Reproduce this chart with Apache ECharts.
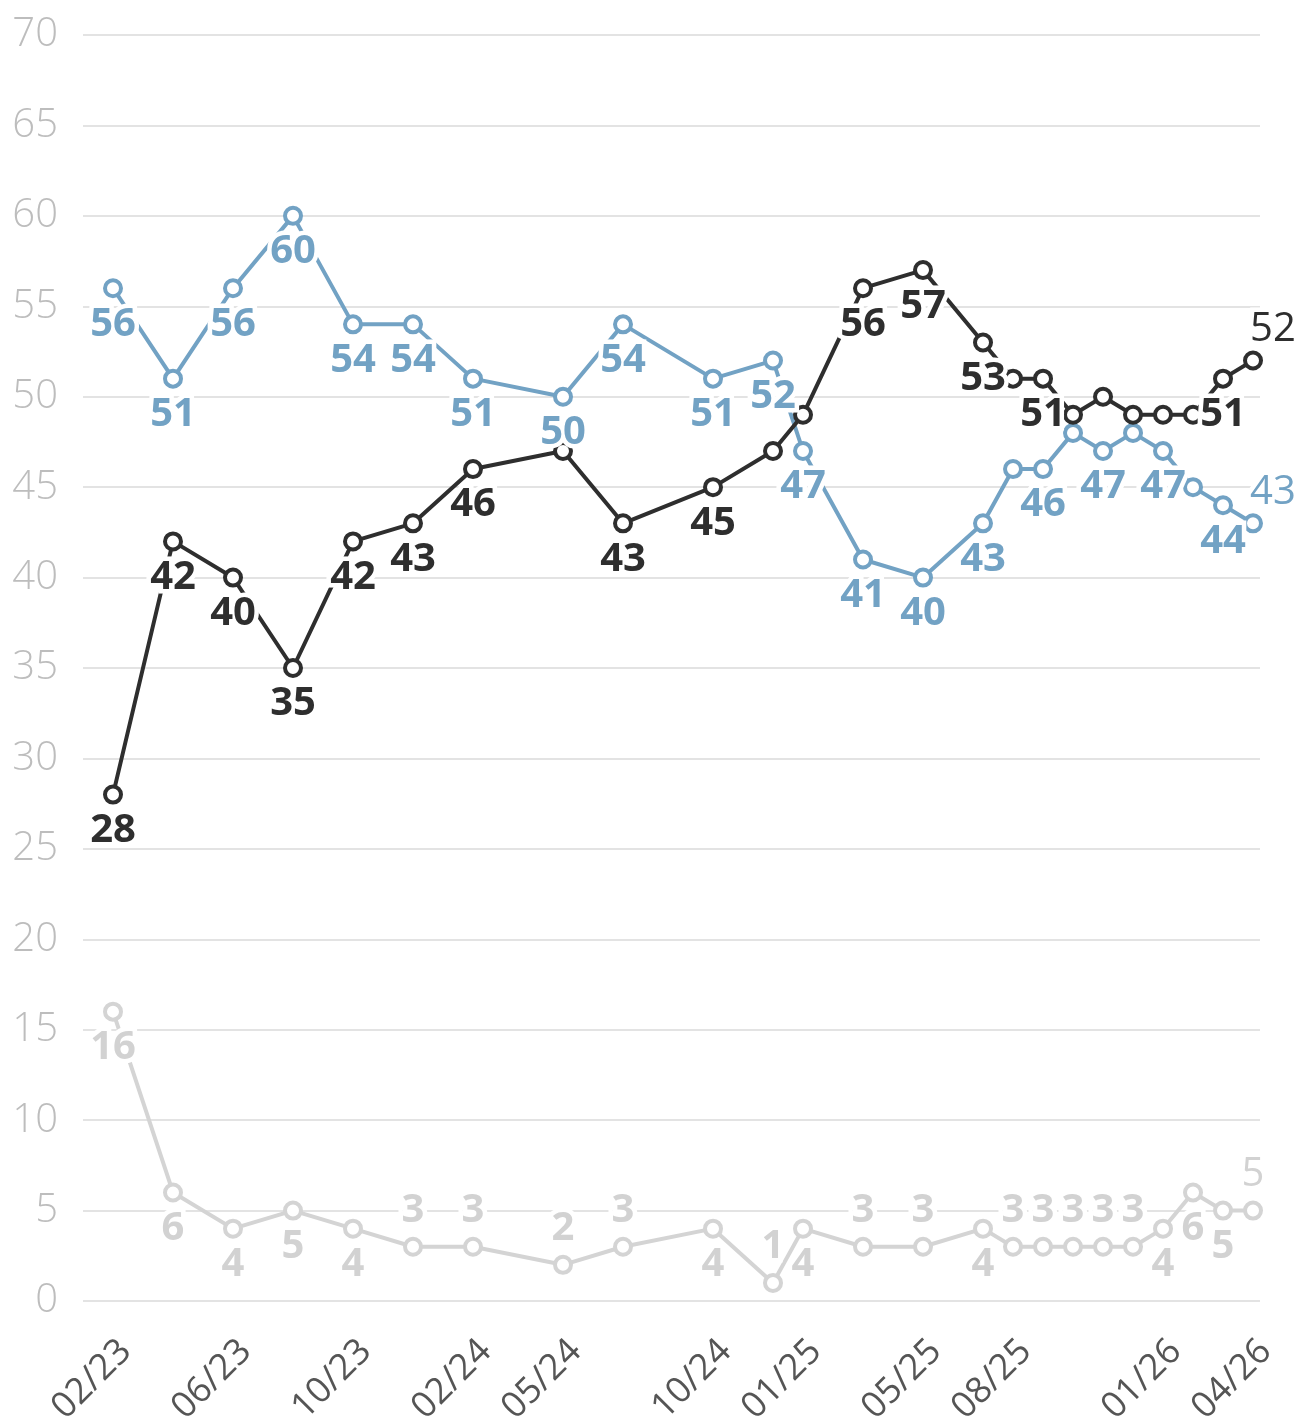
<!DOCTYPE html>
<html>
<head>
<meta charset="utf-8">
<script src="https://cdn.jsdelivr.net/npm/echarts@6/dist/echarts.min.js"></script>
<style>html,body{margin:0;padding:0;background:#fff}#c{width:1301px;height:1426px}</style>
</head>
<body>
<div id="c"></div>
<script>
// ---- data ----
const dates = ['02/23','04/23','06/23','08/23','10/23','12/23','02/24','05/24','07/24','10/24','12/24','01/25','03/25','05/25','07/25','08/25','09/25','10/25','11/25','12/25','01/26','02/26','03/26','04/26'];
const blackValues = [28,42,40,35,42,43,46,47,43,45,47,49,56,57,53,51,51,49,50,49,49,49,51,52];
const blueValues  = [56,51,56,60,54,54,51,50,54,51,52,47,41,40,43,46,46,48,47,48,47,45,44,43];
const grayValues  = [16,6,4,5,4,3,3,2,3,4,1,4,3,3,4,3,3,3,3,3,4,6,5,5];
const tickLabels = ['02/23','06/23','10/23','02/24','05/24','10/24','01/25','05/25','08/25','01/26','04/26'];
const yTicks = [0,5,10,15,20,25,30,35,40,45,50,55,60,65,70];

// ---- label placement (b = below, t = above, T = above regular, R = above-right regular, '' = none) ----
const blackLabelPos = ['b','b','b','b','b','b','b','','b','b','','','b','b','b','','b','','','','','','b','R'];
const blueLabelPos  = ['b','b','b','b','b','b','b','b','b','b','b','b','b','b','b','','b','','b','','b','','b','R'];
const grayLabelPos  = ['b','b','b','b','b','t','t','t','t','b','t','b','t','t','b','t','t','t','t','t','b','b','b','T'];

const COLORS = { black: '#2e2e2e', blue: '#72a2c4', gray: '#d4d4d4' };
const LABEL_COLORS = { black: '#2e2e2e', blue: '#72a2c4', gray: '#d2d2d2' };
const FONT = "'Open Sans', 'Noto Sans', sans-serif";

function monthIndex(s) {
  const [mm, yy] = s.split('/').map(Number);
  return (yy - 23) * 12 + (mm - 2);
}
function idxToLabel(i) {
  const total = i + 1; // months since 01/23
  const yy = 23 + Math.floor(total / 12);
  const mm = total % 12 + 1;
  return String(mm).padStart(2, '0') + '/' + yy;
}

const xs = dates.map(monthIndex);

function lineSeries(vals, color, z) {
  return {
    type: 'line',
    data: vals.map((v, i) => [xs[i], v]),
    z: z,
    symbol: 'circle',
    symbolSize: 16,
    showAllSymbol: true,
    lineStyle: { color: color, width: 4 },
    itemStyle: { color: '#fff', borderColor: color, borderWidth: 4 },
    label: { show: false },
    emphasis: { disabled: true },
    animation: false
  };
}

function labelSeries(vals, pos, color, halo) {
  const data = [];
  vals.forEach((v, i) => {
    const p = pos[i];
    if (!p) return;
    const lab = {
      show: true,
      color: halo ? '#fff' : color,
      fontFamily: FONT,
      fontSize: 40,
      fontWeight: 'bold',
      formatter: String(v)
    };
    if (halo) { lab.textBorderColor = '#fff'; lab.textBorderWidth = 9; }
    if (p === 'b') { lab.position = 'bottom'; lab.distance = 16; }
    else if (p === 't') { lab.position = 'top'; lab.distance = 16; }
    else if (p === 'T') { lab.position = 'top'; lab.distance = 16; lab.fontWeight = 'normal'; }
    else if (p === 'R') { lab.position = 'top'; lab.distance = 11; lab.align = 'left'; lab.offset = [-3, 0]; lab.fontWeight = 'normal'; }
    data.push({ value: [xs[i], v], label: lab });
  });
  return {
    type: 'scatter',
    data: data,
    z: halo ? 8 : 10,
    symbol: 'circle',
    symbolSize: 0.01,
    itemStyle: { color: 'rgba(0,0,0,0)', opacity: 1 },
    emphasis: { disabled: true },
    silent: true,
    animation: false
  };
}

const chart = echarts.init(document.getElementById('c'), null, { renderer: 'canvas' });
chart.setOption({
  animation: false,
  backgroundColor: '#fff',
  grid: { left: 83, right: 41, top: 35, bottom: 125, outerBoundsMode: 'none', containLabel: false },
  xAxis: {
    type: 'value',
    min: -1,
    max: 38.233,
    axisLine: { show: false },
    axisTick: { show: false },
    splitLine: { show: false },
    axisLabel: {
      customValues: tickLabels.map(monthIndex),
      formatter: v => idxToLabel(Math.round(v)),
      rotate: 45,
      align: 'right',
      verticalAlign: 'top',
      padding: [0, 0, 0, 0],
      margin: 32,
      fontFamily: FONT,
      fontSize: 36,
      color: '#555555'
    }
  },
  yAxis: {
    type: 'value',
    min: 0,
    max: 70,
    interval: 5,
    axisLine: { show: false },
    axisTick: { show: false },
    splitLine: { show: true, lineStyle: { color: '#e3e3e3', width: 2 } },
    axisLabel: {
      customValues: yTicks,
      margin: 25,
      fontFamily: FONT,
      fontSize: 40,
      fontWeight: 300,
      color: '#bdbdbd'
    }
  },
  series: [
    lineSeries(grayValues, COLORS.gray, 2),
    lineSeries(blueValues, COLORS.blue, 3),
    lineSeries(blackValues, COLORS.black, 4),
    labelSeries(grayValues, grayLabelPos, LABEL_COLORS.gray, true),
    labelSeries(blueValues, blueLabelPos, LABEL_COLORS.blue, true),
    labelSeries(blackValues, blackLabelPos, LABEL_COLORS.black, true),
    labelSeries(grayValues, grayLabelPos, LABEL_COLORS.gray, false),
    labelSeries(blueValues, blueLabelPos, LABEL_COLORS.blue, false),
    labelSeries(blackValues, blackLabelPos, LABEL_COLORS.black, false)
  ]
});
</script>
</body>
</html>
